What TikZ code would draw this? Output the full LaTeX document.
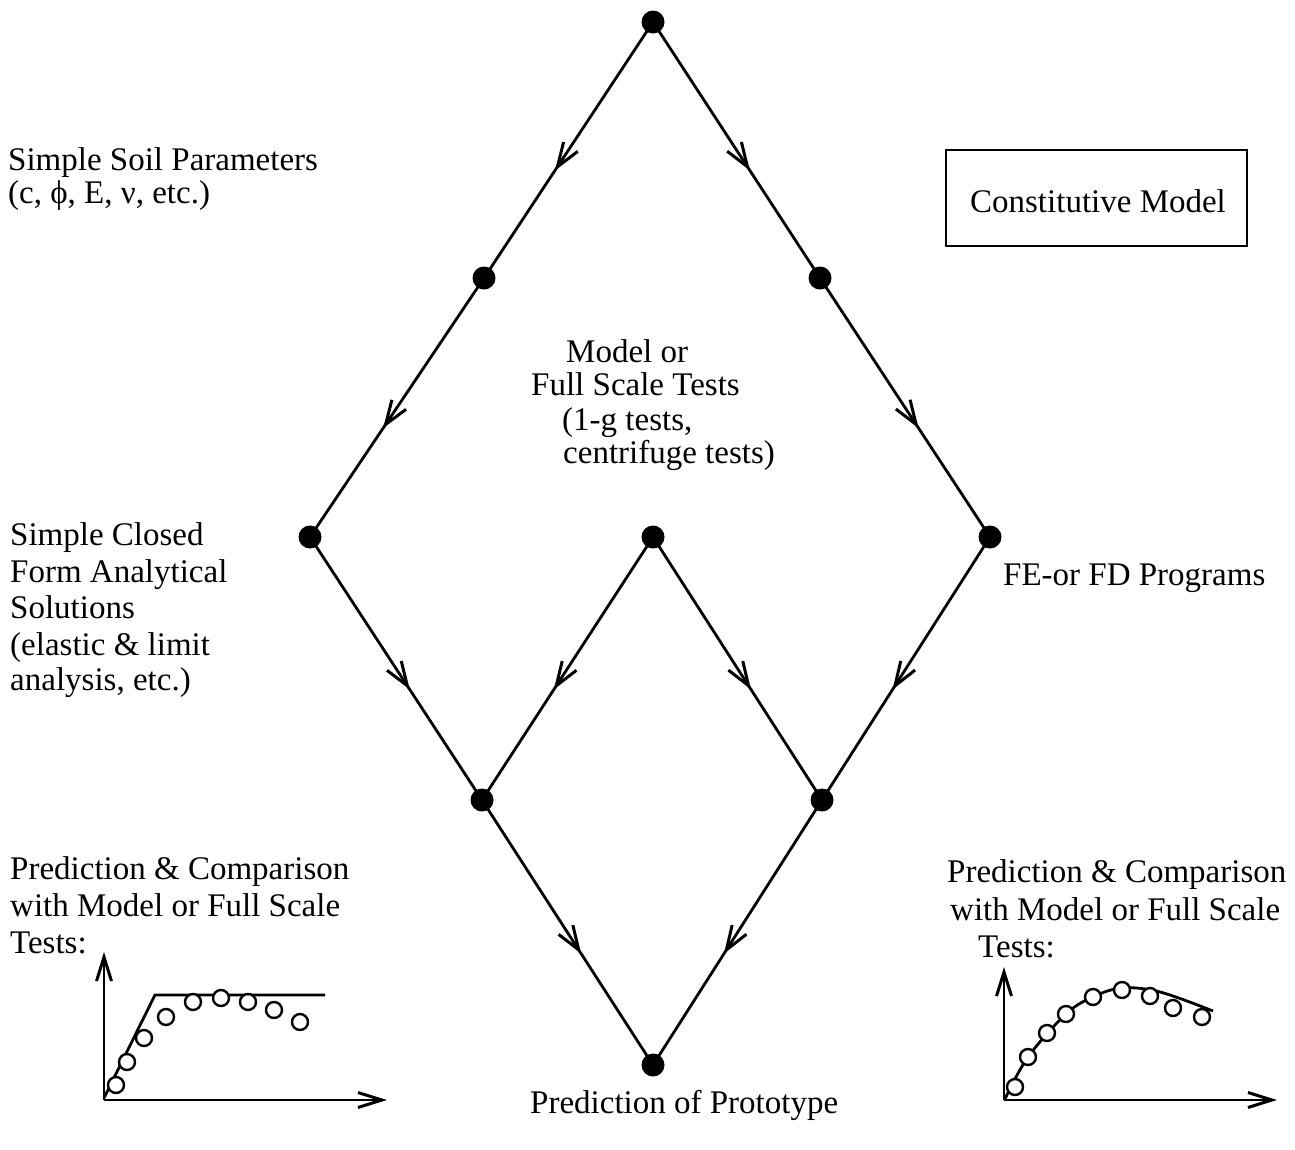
\documentclass[tikz,border=0pt]{standalone}
\usepackage{fontspec}
\setmainfont{Liberation Serif}
\usetikzlibrary{arrows.meta,decorations.markings}
\begin{document}
\begin{tikzpicture}[x=1pt,y=-1pt,
  dot/.style={circle,fill=black,inner sep=0pt,minimum size=23pt},
  lbl/.style={inner sep=0pt,font=\fontsize{33}{35}\selectfont},
  flow/.style={line width=2.8pt,
    postaction={decorate,decoration={markings,
      mark=at position 0.58 with {\arrow{Straight Barb[length=24pt,width=17pt,line width=3pt]}}}}},
  axis/.style={line width=2.8pt,-{Straight Barb[length=24pt,width=15pt,line width=3pt]}},
  curve/.style={line width=2.8pt},
  pt/.style={circle,draw=black,fill=white,line width=2.4pt,inner sep=0pt,minimum size=16pt}]
\useasboundingbox (0,0) rectangle (1295,1149);
% nodes
\node[dot] (T)  at (653,22) {};
\node[dot] (L1) at (484,278) {};
\node[dot] (R1) at (820,278) {};
\node[dot] (L2) at (310,537) {};
\node[dot] (C)  at (653,537) {};
\node[dot] (R2) at (990,537) {};
\node[dot] (L3) at (482,800) {};
\node[dot] (R3) at (822,800) {};
\node[dot] (B)  at (653,1065) {};
% connectors
\draw[flow] (T.center) -- (L1.center);
\draw[flow] (T.center) -- (R1.center);
\draw[flow] (L1.center) -- (L2.center);
\draw[flow] (R1.center) -- (R2.center);
\draw[flow] (L2.center) -- (L3.center);
\draw[flow] (C.center) -- (L3.center);
\draw[flow] (C.center) -- (R3.center);
\draw[flow] (R2.center) -- (R3.center);
\draw[flow] (L3.center) -- (B.center);
\draw[flow] (R3.center) -- (B.center);
% texts
\node[lbl,anchor=base west] (s1) at (8,170) {Simple Soil Parameters};
\node[lbl,anchor=base west] (s2) at (8,203) {(c, ϕ, E, ν, etc.)};
\node[draw,line width=2.4pt,minimum width=301pt,minimum height=96pt,inner sep=0pt] (cm) at (1096.5,198) {};
\node[lbl,anchor=base] (cmt) at (1098,212) {Constitutive Model};
\node[lbl,anchor=base west] (m1) at (566,362) {Model or};
\node[lbl,anchor=base west] (m2) at (531,395) {Full Scale Tests};
\node[lbl,anchor=base west] (m3) at (562,430) {(1-g tests,};
\node[lbl,anchor=base west] (m4) at (563,463) {centrifuge tests)};
\node[lbl,anchor=base west] (a1) at (10,545) {Simple Closed};
\node[lbl,anchor=base west] (a2) at (10,582) {Form Analytical};
\node[lbl,anchor=base west] (a3) at (10,618) {Solutions};
\node[lbl,anchor=base west] (a4) at (10,655) {(elastic \& limit};
\node[lbl,anchor=base west] (a5) at (10,690) {analysis, etc.)};
\node[lbl,anchor=base west] (fe) at (1003,585) {FE-or FD Programs};
\node[lbl,anchor=base west] (p1) at (10,879) {Prediction \& Comparison};
\node[lbl,anchor=base west] (p2) at (10,916) {with Model or Full Scale};
\node[lbl,anchor=base west] (p3) at (10,953) {Tests:};
\node[lbl,anchor=base west] (q1) at (947,882) {Prediction \& Comparison};
\node[lbl,anchor=base west] (q2) at (950,920) {with Model or Full Scale};
\node[lbl,anchor=base west] (q3) at (978,957) {Tests:};
\node[lbl,anchor=base west] (pp) at (530,1113) {Prediction of Prototype};
% left graph
\coordinate (lo) at (104,1100);
\coordinate (ly) at (104,952);
\coordinate (lx) at (387,1100);
\draw[axis] (lo) -- (ly);
\draw[axis] (lo) -- (lx);
\draw[curve] (104,1098) -- (155,995) -- (325,995);
\foreach \x/\y [count=\i] in {116/1085,127/1062,144/1038,166/1017,193/1002,221/998,248/1002,274/1010,300/1022}
  \node[pt] (lp\i) at (\x,\y) {};
% right graph
\coordinate (ro) at (1004,1100);
\coordinate (ry) at (1004,967);
\coordinate (rx) at (1277,1100);
\draw[axis] (ro) -- (ry);
\draw[axis] (ro) -- (rx);
\draw[curve] plot[smooth,tension=0.6] coordinates {(1005,1099) (1028,1057) (1066,1014) (1093,997) (1122,988) (1160,992) (1213,1011)};
\foreach \x/\y [count=\i] in {1015/1087,1028/1057,1047/1033,1066/1014,1093/997,1122/990,1150/996,1173/1008,1202/1017}
  \node[pt] (rp\i) at (\x,\y) {};
\end{tikzpicture}
\end{document}
